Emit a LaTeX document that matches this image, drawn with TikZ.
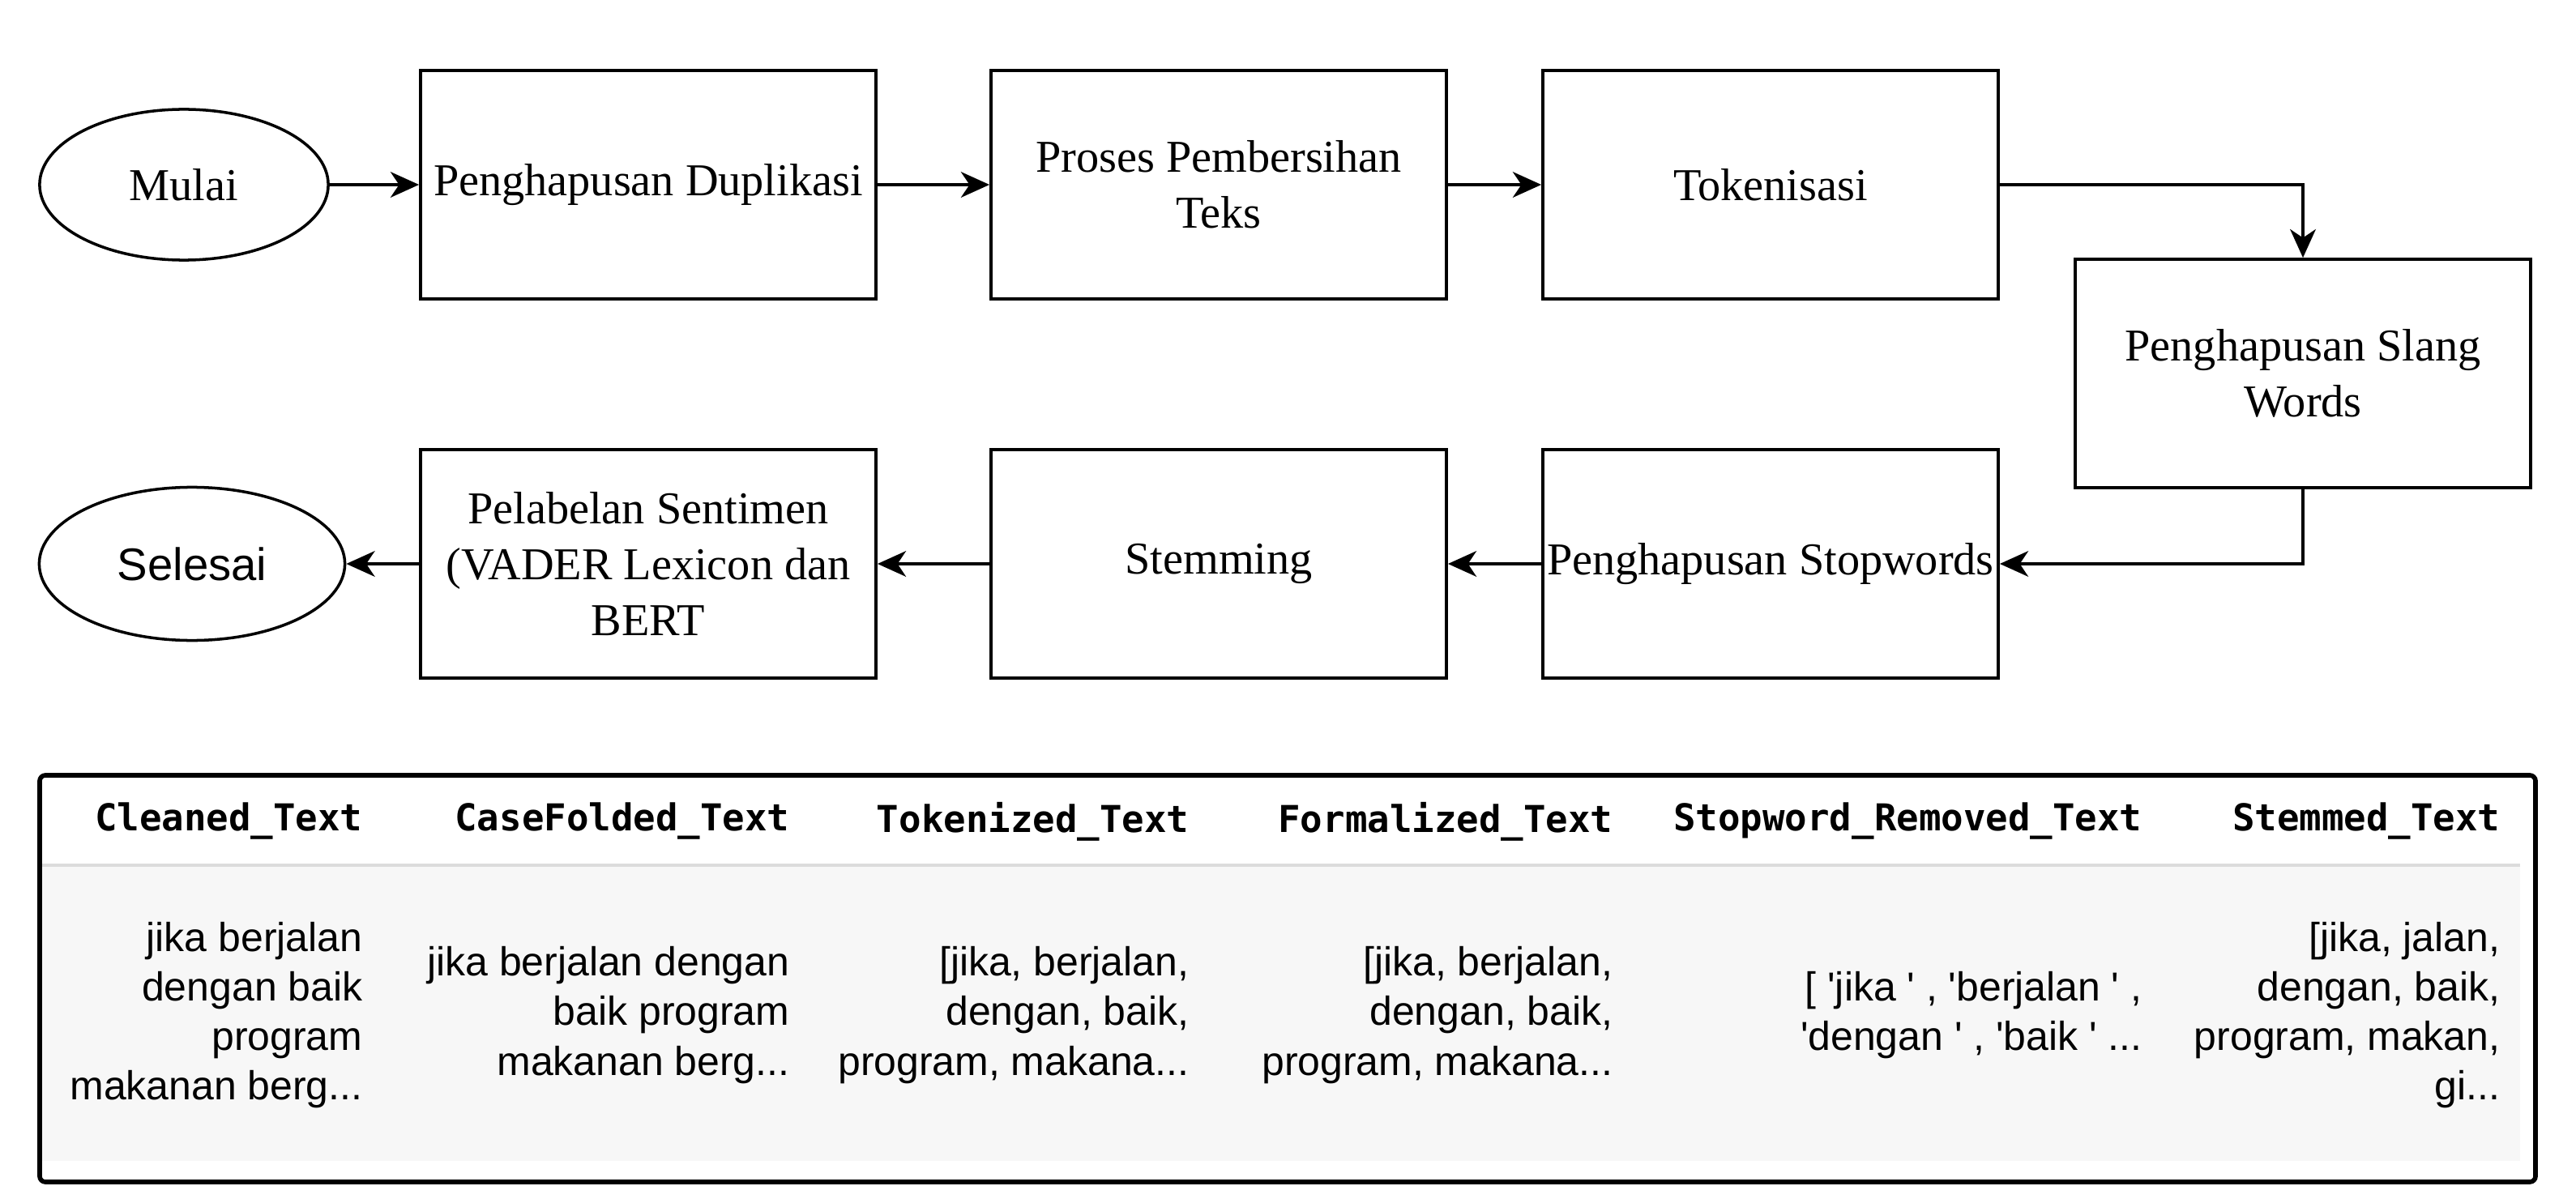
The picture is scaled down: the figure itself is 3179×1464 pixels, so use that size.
\documentclass[tikz,border=0pt]{standalone}
\usepackage{fontspec}
\setmainfont{Liberation Serif}
\newfontfamily\cellfont{Liberation Sans}
\newfontfamily\headfont{DejaVu Sans Mono}
\usetikzlibrary{arrows.meta,shapes.geometric}
\definecolor{rowgray}{HTML}{F7F7F7}
\definecolor{rulegray}{HTML}{DCDCDC}
\newcommand{\sq}{\textquotesingle}

\begin{document}
\begin{tikzpicture}[x=0.01cm,y=-0.01cm,
    proc/.style={draw,line width=1pt,minimum width=5.62cm,minimum height=2.82cm,inner sep=0pt,align=center,font=\fontsize{16}{19.6}\selectfont},
    term/.style={draw,ellipse,line width=1pt,inner sep=0pt,font=\fontsize{16}{19.6}\selectfont},
    arr/.style={-{Stealth[length=10pt,width=9pt,inset=3pt]},line width=1pt},
    head/.style={anchor=east,inner sep=0pt,font=\headfont\bfseries\fontsize{13}{15}\selectfont},
    cell/.style={anchor=east,inner sep=0pt,align=right,font=\cellfont\fontsize{14.2}{17.4}\selectfont}]
    \useasboundingbox (0,0) rectangle (3179,1464);

    \node[term,minimum width=3.56cm,minimum height=1.86cm] (mulai) at (227,228) {Mulai};
    \node[proc] (dup) at (800,228) {Penghapusan Duplikasi};
    \node[proc] (clean) at (1504,228) {Proses Pembersihan\\Teks};
    \node[proc] (tok) at (2185,228) {Tokenisasi};
    \node[proc] (slang) at (2842,461) {Penghapusan Slang\\Words};
    \node[proc] (stop) at (2185,696) {Penghapusan Stopwords};
    \node[proc] (stem) at (1504,696) {Stemming};
    \node[proc] (label) at (800,696) {Pelabelan Sentimen\\(VADER Lexicon dan\\BERT};
    \node[term,minimum width=3.77cm,minimum height=1.89cm,font=\cellfont\fontsize{16}{19.6}\selectfont] (selesai) at (237,696) {Selesai};

    \draw[arr] (mulai) -- (dup);
    \draw[arr] (dup) -- (clean);
    \draw[arr] (clean) -- (tok);
    \draw[arr] (tok.east) -| (slang.north);
    \draw[arr] (slang.south) |- (stop.east);
    \draw[arr] (stop) -- (stem);
    \draw[arr] (stem) -- (label);
    \draw[arr] (label) -- (selesai);

    \fill[rowgray] (52,1068) rectangle (3110,1433);
    \draw[rulegray,line width=1pt] (52,1068) -- (3110,1068);
    \draw[line width=1.6pt,rounded corners=2pt] (49,957) rectangle (3129,1459);

    \node[head] (h1) at (448,1014) {Cleaned\_Text};
    \node[head] (h2) at (975,1014) {CaseFolded\_Text};
    \node[head] (h3) at (1468,1014) {Tokenized\_Text};
    \node[head] (h4) at (1991,1014) {Formalized\_Text};
    \node[head] (h5) at (2644,1014) {Stopword\_Removed\_Text};
    \node[head] (h6) at (3086,1014) {Stemmed\_Text};

    \node[cell] (c1) at (448,1253) {jika berjalan\\dengan baik\\program\\makanan berg...};
    \node[cell] (c2) at (975,1253) {jika berjalan dengan\\baik program\\makanan berg...};
    \node[cell] (c3) at (1468,1253) {[jika, berjalan,\\dengan, baik,\\program, makana...};
    \node[cell] (c4) at (1991,1253) {[jika, berjalan,\\dengan, baik,\\program, makana...};
    \node[cell] (c5) at (2644,1253) {[ \sq jika \sq\ , \sq berjalan \sq\ ,\\\sq dengan \sq\ , \sq baik \sq\ ...};
    \node[cell] (c6) at (3086,1253) {[jika, jalan,\\dengan, baik,\\program, makan,\\gi...};
\end{tikzpicture}
\end{document}
